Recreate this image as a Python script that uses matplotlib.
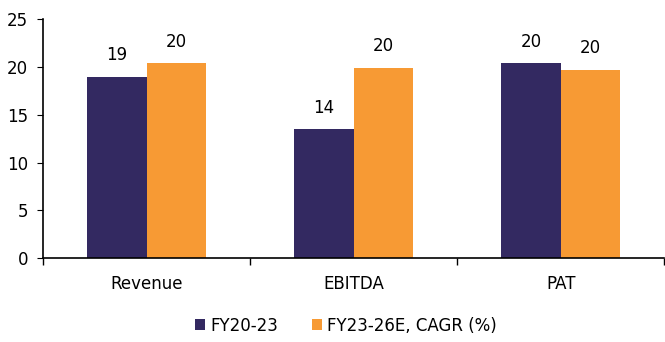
import numpy as np
import matplotlib.pyplot as plt
from matplotlib.ticker import FixedLocator

categories = ["Revenue", "EBITDA", "PAT"]
fy20_23 = [19.0, 13.5, 20.4]
fy23_26e = [20.4, 19.9, 19.7]
series_names = ["FY20-23", "FY23-26E, CAGR (%)"]

dark = "#332961"
orange = "#F79A34"

plt.rcParams["font.family"] = "DejaVu Sans"
plt.rcParams["font.size"] = 12

fig = plt.figure(figsize=(6.65, 3.42), dpi=100)
ax = fig.add_axes([0.065, 0.245, 0.934, 0.699])

x = np.arange(len(categories))
w = 0.287
b1 = ax.bar(x - w / 2, fy20_23, w, color=dark, label=series_names[0])
b2 = ax.bar(x + w / 2, fy23_26e, w, color=orange, label=series_names[1])

# value labels above each bar
for bars, vals in ((b1, fy20_23), (b2, fy23_26e)):
    for rect, v in zip(bars, vals):
        ax.annotate(f"{v:.0f}", (rect.get_x() + rect.get_width() / 2, v),
                    xytext=(0, 9), textcoords="offset points",
                    ha="center", va="bottom", fontsize=12)

ax.set_xlim(-0.5, len(categories) - 0.5)
ax.set_ylim(0, 25)
ax.set_yticks(range(0, 26, 5))
ax.set_xticks(x)
ax.set_xticklabels(categories, fontsize=12)
# ticks sit on the category boundaries, labels in the middle
ax.xaxis.set_minor_locator(FixedLocator(np.arange(-0.5, len(categories), 1.0)))
ax.tick_params(axis="x", which="major", length=0, pad=12)
ax.tick_params(axis="x", which="minor", length=5, direction="out", width=1)
ax.tick_params(axis="y", length=4, direction="out", pad=7, labelsize=12)

for s in ("top", "right"):
    ax.spines[s].set_visible(False)
ax.spines["left"].set_linewidth(1.2)
ax.spines["bottom"].set_linewidth(1.2)

fig.legend(loc="center", bbox_to_anchor=(0.52, 0.048), ncol=2, frameon=False,
           fontsize=12, handlelength=0.6, handleheight=0.6, handletextpad=0.3,
           columnspacing=2.0)

fig.savefig("out.png", dpi=100)
